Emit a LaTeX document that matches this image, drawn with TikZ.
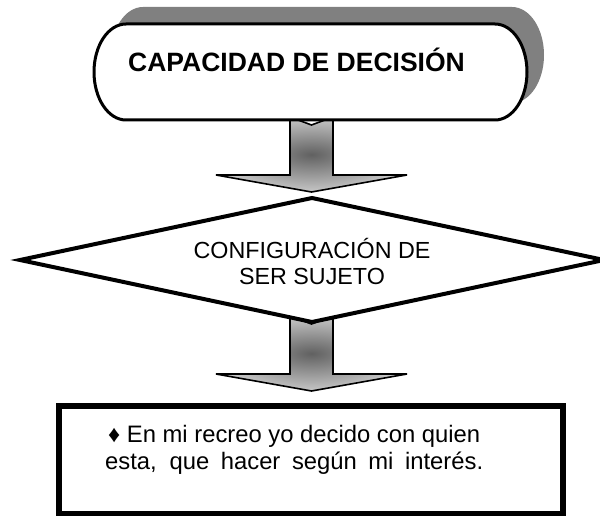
\documentclass[tikz,border=0pt]{standalone}
\usepackage{fontspec}
\setmainfont{Liberation Sans}
\begin{document}
\begin{tikzpicture}[x=1pt,y=-1pt,line join=miter,
  shadowfill/.style={fill=black!50},
  blockarrow/.style={draw=black,line width=1.6pt,inner color=black!62,outer color=black!22},
  termbox/.style={draw=black,line width=3pt,fill=white},
  decbox/.style={draw=black,line width=4pt,fill=white},
  notebox/.style={draw=black,line width=5.5pt,fill=white},
  titletext/.style={font=\fontsize{26.5}{30}\selectfont\bfseries,inner sep=0pt,anchor=base west},
  cfgtext/.style={font=\fontsize{23.3}{26}\selectfont,inner sep=0pt,anchor=base},
  notetext/.style={font=\fontsize{23.8}{27}\selectfont,inner sep=0pt,anchor=base west}]
\useasboundingbox (0,0) rectangle (600,516);
% shadow of the top box
\path[shadowfill] (143,7) -- (512,7) .. controls (529.7,7) and (544,28.5) .. (544,55)
  .. controls (544,81.5) and (529.7,103) .. (512,103) -- (143,103)
  .. controls (125.3,103) and (111,81.5) .. (111,55)
  .. controls (111,28.5) and (125.3,7) .. (143,7) -- cycle;
% first block arrow
\path[blockarrow] (290,117) -- (311.5,125) -- (333,117) -- (333,175) -- (407,175)
  -- (311.5,192) -- (216,175) -- (290,175) -- cycle;
% top box
\path[termbox] (126,24) -- (495,24) .. controls (512.7,24) and (527,45.5) .. (527,72)
  .. controls (527,98.5) and (512.7,120) .. (495,120) -- (126,120)
  .. controls (108.3,120) and (94,98.5) .. (94,72)
  .. controls (94,45.5) and (108.3,24) .. (126,24) -- cycle;
\node[titletext] (title) at (128,72) {CAPACIDAD DE DECISIÓN};
% second block arrow
\path[blockarrow] (290,316) -- (311.5,324) -- (333,316) -- (333,374) -- (407,374)
  -- (311.5,391) -- (216,374) -- (290,374) -- cycle;
% diamond
\path[decbox] (20,260) -- (312,198) -- (604,260) -- (312,322) -- cycle;
\node[cfgtext] (cfg1) at (312,258) {CONFIGURACIÓN DE};
\node[cfgtext] (cfg2) at (312,284) {SER SUJETO};
% bottom box
\path[notebox] (59,406) rectangle (563,513.5);
\node[notetext] (note1) at (108,442) {♦ En mi recreo yo decido con quien};
\node[notetext] (note2) at (105,469) {\makebox[378pt][s]{esta, que hacer según mi interés.}};
\end{tikzpicture}
\end{document}
